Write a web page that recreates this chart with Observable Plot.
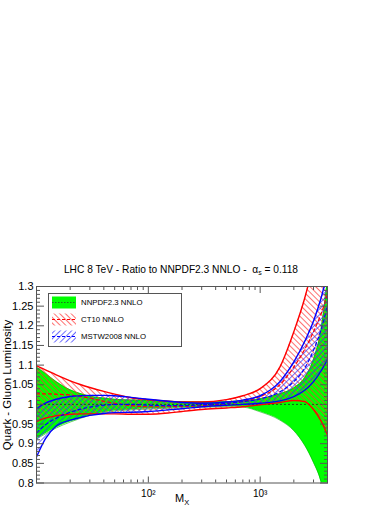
<!DOCTYPE html>
<html><head><meta charset="utf-8">
<script src="https://cdn.jsdelivr.net/npm/d3@7"></script>
<script src="https://cdn.jsdelivr.net/npm/@observablehq/plot@0.6"></script>
<style>
body{margin:0;background:#fff;}
svg{font-family:"Liberation Sans",Arial,Helvetica,sans-serif;background:#fff;}
</style>
</head><body><div id="chart"></div>
<script>
// Invariant mass M_X (GeV)
const mass    = [10,    12,    15,    20,    25,    30,    40,    50,    70,    100,   150,   200,   300,   500,   700,   1000,  1500,  2000,  2500,  3000,  3500,  4000];
// NNPDF2.3 NNLO band (ratio to itself)
const nnpdfCentral = 1;
const nnpdfHi = [1.095, 1.079, 1.058, 1.037, 1.027, 1.021, 1.016, 1.013, 1.011, 1.010, 1.008, 1.007, 1.006, 1.007, 1.009, 1.014, 1.027, 1.042, 1.068, 1.115, 1.19,  1.32];
const nnpdfLo = [0.912, 0.925, 0.940, 0.955, 0.965, 0.972, 0.979, 0.983, 0.986, 0.988, 0.990, 0.992, 0.993, 0.994, 0.993, 0.981, 0.960, 0.933, 0.896, 0.852, 0.803, 0.72];
// CT10 NNLO
const ct10Hi  = [1.098, 1.088, 1.075, 1.060, 1.050, 1.043, 1.033, 1.026, 1.017, 1.012, 1.008, 1.006, 1.006, 1.012, 1.022, 1.040, 1.095, 1.185, 1.27,  1.36,  1.45,  1.55];
const ct10Mid = [1.027, 1.027, 1.026, 1.024, 1.020, 1.016, 1.008, 1.003, 0.997, 0.994, 0.994, 0.995, 0.997, 1.002, 1.008, 1.020, 1.050, 1.095, 1.14,  1.185, 1.23,  1.28];
const ct10Lo  = [0.956, 0.965, 0.971, 0.975, 0.976, 0.976, 0.976, 0.976, 0.975, 0.975, 0.978, 0.982, 0.987, 0.991, 0.994, 0.999, 1.005, 1.010, 1.007, 0.987, 0.958, 0.922];
// MSTW2008 NNLO
const mstwHi  = [0.989, 1.003, 1.013, 1.020, 1.022, 1.023, 1.023, 1.022, 1.018, 1.013, 1.008, 1.005, 1.003, 1.006, 1.011, 1.022, 1.058, 1.108, 1.16,  1.212, 1.27,  1.335];
const mstwMid = [0.928, 0.948, 0.965, 0.980, 0.988, 0.993, 0.998, 1.000, 1.000, 0.998, 0.997, 0.997, 0.999, 1.003, 1.007, 1.014, 1.032, 1.058, 1.092, 1.138, 1.19,  1.25];
const mstwLo  = [0.866, 0.912, 0.945, 0.960, 0.967, 0.972, 0.977, 0.979, 0.980, 0.982, 0.986, 0.989, 0.994, 0.998, 1.000, 1.003, 1.009, 1.020, 1.036, 1.058, 1.085, 1.115];

// Axis ticks
const yMajor = [0.8,0.85,0.9,0.95,1,1.05,1.1,1.15,1.2,1.25,1.3];
const yMinor = d3.range(80,131).filter(v => v % 5 !== 0).map(v => v/100);
const xMajor = [100, 1000];
const xMajorLabels = ["10²", "10³"];
const xMinor = [20,30,40,50,60,70,80,90,200,300,400,500,600,700,800,900,2000,3000,4000];

const rows = mass.map((m,i) => ({m,
  nnHi: nnpdfHi[i], nnLo: nnpdfLo[i],
  ctHi: ct10Hi[i], ctMid: ct10Mid[i], ctLo: ct10Lo[i],
  msHi: mstwHi[i], msMid: mstwMid[i], msLo: mstwLo[i]}));

const curve = "monotone-x";
const frameCol = "#555";
const svg = Plot.plot({
  width: 392, height: 508,
  marginLeft: 36, marginRight: 65, marginTop: 286, marginBottom: 25.5,
  style: {fontFamily: "Liberation Sans, Arial, sans-serif", background: "#fff"},
  x: {type: "log", domain: [10, 4000]},
  y: {domain: [0.8, 1.3]},
  marks: [
    Plot.areaY(rows, {x: "m", y1: "nnLo", y2: "nnHi", fill: "#00ff00", curve, clip: true}),
    Plot.lineY(rows, {x: "m", y: "nnHi", stroke: "#00b000", strokeWidth: 0.6, curve, clip: true}),
    Plot.lineY(rows, {x: "m", y: "nnLo", stroke: "#00b000", strokeWidth: 0.6, curve, clip: true}),
    Plot.areaY(rows, {x: "m", y1: "ctLo", y2: "ctHi", fill: "url(#hatchRed)", curve, clip: true}),
    Plot.areaY(rows, {x: "m", y1: "msLo", y2: "msHi", fill: "url(#hatchBlue)", curve, clip: true}),
    Plot.ruleY([nnpdfCentral], {stroke: "#1f4f1f", strokeWidth: 1, strokeDasharray: "2,2"}),
    Plot.lineY(rows, {x: "m", y: "ctHi", stroke: "#ff0000", strokeWidth: 1.4, curve, clip: true}),
    Plot.lineY(rows, {x: "m", y: "ctLo", stroke: "#ff0000", strokeWidth: 1.4, curve, clip: true}),
    Plot.lineY(rows, {x: "m", y: "ctMid", stroke: "#ff0000", strokeWidth: 1.2, strokeDasharray: "3,3", curve, clip: true}),
    Plot.lineY(rows, {x: "m", y: "msHi", stroke: "#0000ff", strokeWidth: 1.4, curve, clip: true}),
    Plot.lineY(rows, {x: "m", y: "msLo", stroke: "#0000ff", strokeWidth: 1.4, curve, clip: true}),
    Plot.lineY(rows, {x: "m", y: "msMid", stroke: "#0000ff", strokeWidth: 1.2, strokeDasharray: "3,3", curve, clip: true}),
    Plot.frame({stroke: frameCol}),
    // y axis labels
    Plot.axisY(yMajor, {anchor: "left", tickSize: 0, tickPadding: 3, stroke: "none", fill: "black", fontSize: 11, label: null,
      tickFormat: d => String(+d.toFixed(2))}),
    Plot.axisY(yMajor, {anchor: "left", tickSize: -8, fill: "none", stroke: frameCol, label: null}),
    Plot.axisY(yMinor, {anchor: "left", tickSize: -4, fill: "none", stroke: frameCol, label: null}),
    Plot.axisY(yMajor, {anchor: "right", tickSize: -8, fill: "none", stroke: frameCol, label: null}),
    Plot.axisY(yMinor, {anchor: "right", tickSize: -4, fill: "none", stroke: frameCol, label: null}),
    // x axis
    Plot.axisX(xMajor, {anchor: "bottom", tickSize: 0, tickPadding: 7, stroke: "none", fill: "black", fontSize: 10, label: null,
      tickFormat: d => xMajorLabels[xMajor.indexOf(d)]}),
    Plot.axisX(xMajor, {anchor: "bottom", tickSize: -6, fill: "none", stroke: frameCol, label: null}),
    Plot.axisX(xMinor, {anchor: "bottom", tickSize: -3, fill: "none", stroke: frameCol, label: null}),
    Plot.axisX(xMajor, {anchor: "top", tickSize: -6, fill: "none", stroke: frameCol, label: null}),
    Plot.axisX(xMinor, {anchor: "top", tickSize: -3, fill: "none", stroke: frameCol, label: null})
  ]
});
document.getElementById("chart").appendChild(svg);

const s = d3.select(svg);
const defs = s.insert("defs", ":first-child");
function hatch(id, color, angle) {
  const p = defs.append("pattern").attr("id", id).attr("patternUnits", "userSpaceOnUse")
    .attr("width", 4).attr("height", 4).attr("patternTransform", `rotate(${angle})`);
  p.append("line").attr("x1", 0.5).attr("y1", -1).attr("x2", 0.5).attr("y2", 5)
    .attr("stroke", color).attr("stroke-width", 0.7);
}
hatch("hatchRed", "#ff3030", -45);
hatch("hatchBlue", "#3030ff", 45);

// Title
const t = s.append("text").attr("x", 181).attr("y", 272.5).attr("text-anchor", "middle")
  .attr("font-size", 10.2).attr("fill", "black").style("white-space", "pre");
t.append("tspan").text("LHC 8 TeV - Ratio to NNPDF2.3 NNLO -  α");
t.append("tspan").attr("font-size", 7).attr("dy", 2.5).text("s");
t.append("tspan").attr("dy", -2.5).text(" = 0.118");

// Y title
s.append("text").attr("transform", "translate(11,385) rotate(-90)").attr("text-anchor", "middle")
  .attr("font-size", 11.5).attr("fill", "black").text("Quark - Gluon Luminosity");

// X title
const xt = s.append("text").attr("x", 175).attr("y", 502).attr("text-anchor", "start")
  .attr("font-size", 11).attr("fill", "black");
xt.append("tspan").text("M");
xt.append("tspan").attr("font-size", 7.5).attr("dy", 3).text("X");

// Legend
const lg = s.append("g").attr("text-anchor", "start");
lg.append("rect").attr("x", 48.5).attr("y", 293.5).attr("width", 133).attr("height", 53)
  .attr("fill", "white").attr("stroke", frameCol);
const entries = [
  {label: "NNPDF2.3 NNLO", fill: "#00ff00", line: "#1f6f1f", dash: "1.5,1.5"},
  {label: "CT10 NNLO", fill: "url(#hatchRed)", line: "#ff0000", dash: "3,2"},
  {label: "MSTW2008 NNLO", fill: "url(#hatchBlue)", line: "#0000ff", dash: "3,2"}
];
entries.forEach((e, i) => {
  const cy = 302.5 + i * 17;
  lg.append("rect").attr("x", 52).attr("y", cy - 6).attr("width", 24).attr("height", 12).attr("fill", e.fill);
  lg.append("line").attr("x1", 52).attr("x2", 76).attr("y1", cy).attr("y2", cy)
    .attr("stroke", e.line).attr("stroke-width", 1.2).attr("stroke-dasharray", e.dash);
  lg.append("text").attr("x", 81).attr("y", cy + 2.8).attr("text-anchor", "start")
    .attr("font-size", 7.8).attr("fill", "black").text(e.label);
});
</script>
</body></html>
